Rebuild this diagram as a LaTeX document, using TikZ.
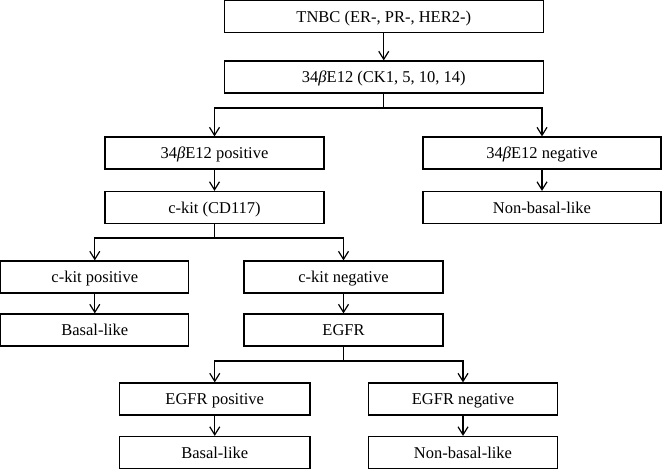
\documentclass[tikz,border=0pt]{standalone}
\usepackage{fontspec}
\setmainfont{Liberation Serif}
\usetikzlibrary{arrows.meta}
\begin{document}
\begin{tikzpicture}[x=0.5pt, y=-0.5pt, line width=0.6pt,
  >={Straight Barb[length=4pt,width=5pt]},
  flowbox/.style={draw, minimum height=16pt, inner sep=0pt, text height=1.6ex, text depth=0.3ex,
    font=\fontsize{8.25}{10}\selectfont}]
\useasboundingbox (0,0) rectangle (662,469);
\node[flowbox, minimum width=159.5pt] (tnbc) at (383.75,16.6) {TNBC (ER-, PR-, HER2-)};
\node[flowbox, minimum width=159.5pt] (ck) at (383.75,77) {34\textit{β}E12 (CK1, 5, 10, 14)};
\node[flowbox, minimum width=109.5pt] (ckpos) at (214.5,153) {34\textit{β}E12 positive};
\node[flowbox, minimum width=119pt] (ckneg) at (542,153) {34\textit{β}E12 negative};
\node[flowbox, minimum width=109.5pt] (kit) at (214.5,207.5) {c-kit (CD117)};
\node[flowbox, minimum width=119pt] (nonbasal1) at (542,207.5) {Non-basal-like};
\node[flowbox, minimum width=94pt] (kitpos) at (94.8,277) {c-kit positive};
\node[flowbox, minimum width=99.5pt] (kitneg) at (343.5,277) {c-kit negative};
\node[flowbox, minimum width=94pt] (basal1) at (94.8,330) {Basal-like};
\node[flowbox, minimum width=99.5pt] (egfr) at (343.5,330) {EGFR};
\node[flowbox, minimum width=95.25pt] (egfrpos) at (214.75,399) {EGFR positive};
\node[flowbox, minimum width=94.35pt] (egfrneg) at (463,399) {EGFR negative};
\node[flowbox, minimum width=95.25pt] (basal2) at (214.75,452.5) {Basal-like};
\node[flowbox, minimum width=94.35pt] (nonbasal2) at (463,452.5) {Non-basal-like};

% branch points
\coordinate (split1) at (383.75,108);
\coordinate (split2) at (214.5,238);
\coordinate (split3) at (343.5,361);

\draw[->] (tnbc) -- (ck);
\draw (ck) -- (split1);
\draw[->] (split1) -| (ckpos);
\draw[->] (split1) -| (ckneg);
\draw[->] (ckpos) -- (kit);
\draw[->] (ckneg) -- (nonbasal1);
\draw (kit) -- (split2);
\draw[->] (split2) -| (kitpos);
\draw[->] (split2) -| (kitneg);
\draw[->] (kitpos) -- (basal1);
\draw[->] (kitneg) -- (egfr);
\draw (egfr) -- (split3);
\draw[->] (split3) -| (egfrpos);
\draw[->] (split3) -| (egfrneg);
\draw[->] (egfrpos) -- (basal2);
\draw[->] (egfrneg) -- (nonbasal2);
\end{tikzpicture}
\end{document}
